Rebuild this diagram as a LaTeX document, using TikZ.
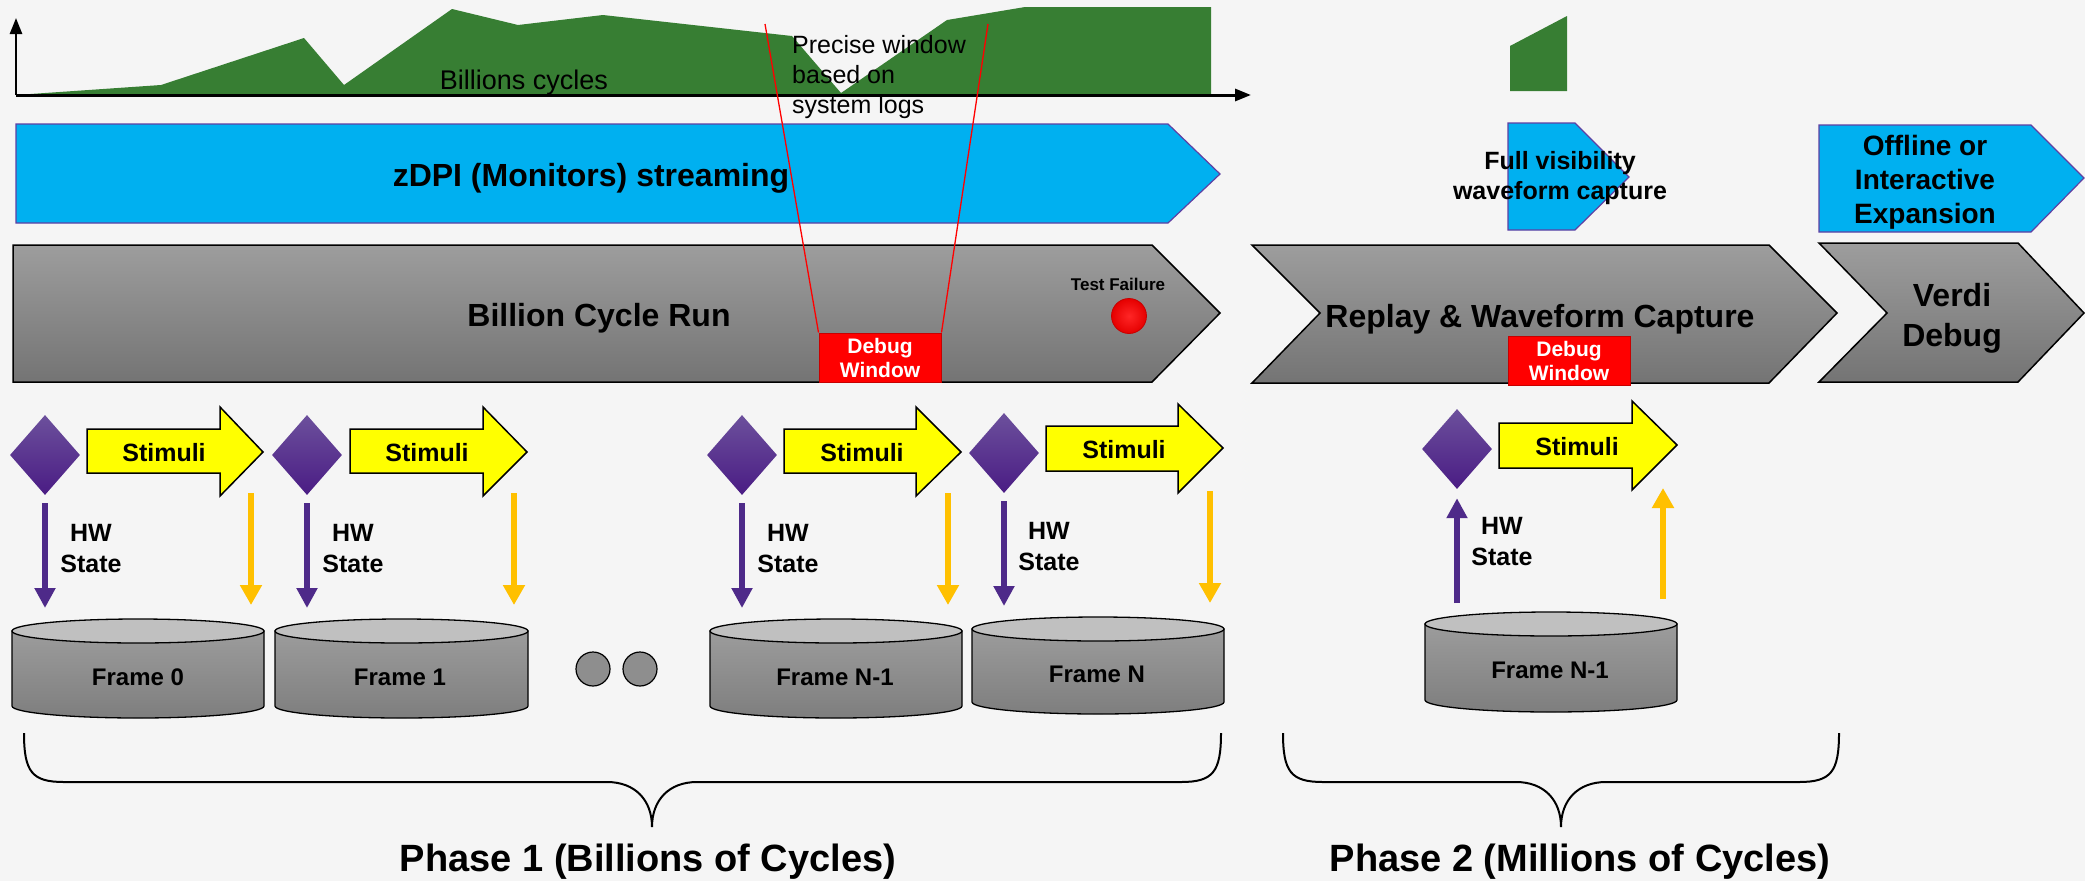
\documentclass[tikz,border=0pt]{standalone}
\usepackage{fontspec}
\setmainfont{Liberation Sans}
\usetikzlibrary{shapes.geometric,arrows.meta}

\definecolor{paper}{HTML}{F5F5F5}
\definecolor{chartgreen}{HTML}{377E33}
\definecolor{streamblue}{HTML}{00B0F0}
\definecolor{streamedge}{HTML}{5E3FA3}
\definecolor{runtop}{HTML}{9D9D9D}
\definecolor{runbot}{HTML}{747474}
\definecolor{dbgred}{HTML}{FF0000}
\definecolor{dbgedge}{HTML}{C80000}
\definecolor{stimyellow}{HTML}{FFFF00}
\definecolor{statepurple}{HTML}{4E2A89}
\definecolor{gemtop}{HTML}{6C509C}
\definecolor{gemmid}{HTML}{4F2188}
\definecolor{gembot}{HTML}{4A1C84}
\definecolor{feedorange}{HTML}{FFC000}
\definecolor{drumlid}{HTML}{C0C0C0}
\definecolor{drumhi}{HTML}{9C9C9C}
\definecolor{drumlo}{HTML}{7E7E7E}
\definecolor{dotgray}{HTML}{8E8E8E}

\newcommand{\pxfont}[2]{\fontsize{#1}{#2}\selectfont}
% storage drum: left x, right x, lid centre y, base centre y
\newcommand{\framedrum}[4]{%
  \pgfmathsetmacro{\drumrx}{(#2-#1)/2}%
  \pgfmathsetmacro{\drumcx}{(#2+#1)/2}%
  \draw[top color=drumhi, bottom color=drumlo, line width=1.3pt]
    (#1,#3) -- (#1,#4) arc[start angle=180, end angle=360, x radius=\drumrx pt, y radius=12pt] -- (#2,#3) -- cycle;
  \draw[fill=drumlid, line width=1.3pt] (\drumcx,#3) ellipse[x radius=\drumrx pt, y radius=12pt];
}

\begin{document}
\begin{tikzpicture}[x=1pt, y=-1pt,
  headtxt/.style={inner sep=0pt, font=\bfseries\pxfont{32}{40}},
  stimtxt/.style={inner sep=0pt, font=\bfseries\pxfont{25}{31}},
  frametxt/.style={inner sep=0pt, font=\bfseries\pxfont{24}{29}, anchor=base},
  dbgbox/.style={rectangle, fill=dbgred, draw=dbgedge, line width=1pt,
    minimum width=122pt, minimum height=49pt, inner sep=0pt, text=white,
    font=\bfseries\pxfont{21}{24}, align=center},
  gem/.style={diamond, minimum width=70pt, minimum height=80pt, inner sep=0pt,
    top color=gemtop, middle color=gemmid, bottom color=gembot},
  stimshape/.style={fill=stimyellow, draw=black, line width=1.5pt, line join=miter},
  statearrow/.style={draw=statepurple, line width=6pt, -{Triangle[length=20pt,width=20pt]}},
  feedarrow/.style={draw=feedorange, line width=6.5pt, -{Triangle[length=20pt,width=21pt]}},
  runshape/.style={top color=runtop, bottom color=runbot, draw=black, line width=1.5pt, line join=miter},
  streamshape/.style={fill=streamblue, draw=streamedge, line width=1.2pt, line join=miter},
  dot/.style={circle, minimum size=34pt, inner sep=0pt, draw=black, line width=1.2pt, fill=dotgray},
  brace/.style={draw=black, line width=2pt},
  window/.style={draw=red, line width=1.3pt}
]
\fill[paper] (0,0) rectangle (2085,881);
\useasboundingbox (0,0) rectangle (2085,881);

% ---- cycle activity chart ----
\fill[chartgreen] (16,95) -- (161,85) -- (304,38) -- (344,85) -- (452,9) -- (518,25)
  -- (603,15) -- (792,36) -- (841,93) -- (947,20) -- (1025,7) -- (1211,7) -- (1211,95) -- cycle;
\fill[chartgreen] (1510,46) -- (1567,16) -- (1567,91) -- (1510,91) -- cycle;
\coordinate (origin) at (16,95);
\coordinate (yend) at (16,18);
\coordinate (xend) at (1251,95);
\draw[line width=2.5pt, -{Triangle[length=16pt,width=12pt]}] (origin) -- (yend);
\draw[line width=3pt, -{Triangle[length=16pt,width=12pt]}] (origin) -- (xend);
\node[inner sep=0pt, font=\pxfont{27}{32}, anchor=base] (cyclbl) at (524,89) {Billions cycles};
\node[inner sep=0pt, font=\pxfont{25}{30}, align=left, anchor=north west] (winlbl) at (792,35)
  {Precise window\\based on\\system logs};

% ---- monitor streaming and capture bands ----
\draw[streamshape] (16,124) -- (1168,124) -- (1220,174) -- (1168,223) -- (16,223) -- cycle;
\node[headtxt, anchor=base] (zdpi) at (591,186) {zDPI (Monitors) streaming};
\draw[streamshape] (1508,123) -- (1575,123) -- (1629,177) -- (1575,230) -- (1508,230) -- cycle;
\node[inner sep=0pt, font=\bfseries\pxfont{25}{30}, align=center] (fullvis) at (1560,178)
  {Full visibility\\waveform capture};
\draw[streamshape] (1819,125) -- (2031,125) -- (2084,178) -- (2031,232) -- (1819,232) -- cycle;
\node[inner sep=0pt, font=\bfseries\pxfont{28}{34}, align=center] (offline) at (1925,182)
  {Offline or\\Interactive\\Expansion};

% ---- run stages ----
\draw[runshape] (13,245) -- (1152,245) -- (1220,313) -- (1152,382) -- (13,382) -- cycle;
\node[headtxt, anchor=base] (runlbl) at (599,326) {Billion Cycle Run};
\node[inner sep=0pt, font=\bfseries\pxfont{17}{20}, anchor=base] (faillbl) at (1118,290) {Test Failure};
\node[circle, minimum size=35pt, inner sep=0pt, inner color=red!85!white, outer color=red!90!black,
  draw=dbgedge, line width=0.8pt] (faildot) at (1129,316) {};
\node[dbgbox] (dbg1) at (880,357.5) {Debug\\Window};

\draw[runshape] (1252,245) -- (1769,245) -- (1837,313) -- (1769,383) -- (1252,383) -- (1320,313) -- cycle;
\node[headtxt, anchor=base] (replaylbl) at (1540,327) {Replay \& Waveform Capture};
\node[dbgbox] (dbg2) at (1569,361) {Debug\\Window};

\draw[runshape] (1819,243) -- (2018,243) -- (2084,313) -- (2018,382) -- (1819,382) -- (1887,313) -- cycle;
\node[headtxt, align=center] (verdi) at (1952,318) {Verdi\\Debug};

% window markers from the log timeline to the debug window
\coordinate (winL) at (765,24);
\coordinate (winR) at (988,24);
\draw[window] (winL) -- (dbg1.north west);
\draw[window] (winR) -- (dbg1.north east);

% ---- frame checkpoints, phase 1 ----
% frame 0
\node[gem] (g1) at (45,455) {};
\draw[stimshape] (87,429) -- (220,429) -- (220,407) -- (263,452) -- (220,496) -- (220,473) -- (87,473) -- cycle;
\node[stimtxt, anchor=base] (st1) at (164,461) {Stimuli};
\coordinate (p1) at (45,608);
\draw[statearrow, shorten <=8pt] (g1.south) -- (p1);
\node[stimtxt, align=center, anchor=north] (hw1) at (91,524) {HW\\State};
\coordinate (y1a) at (251,493); \coordinate (y1b) at (251,605);
\draw[feedarrow] (y1a) -- (y1b);
\framedrum{12}{264}{631}{706}
\node[frametxt] (fr1) at (138,685) {Frame 0};

% frame 1
\node[gem] (g2) at (307,455) {};
\draw[stimshape] (350,429) -- (483,429) -- (483,407) -- (527,452) -- (483,496) -- (483,473) -- (350,473) -- cycle;
\node[stimtxt, anchor=base] (st2) at (427,461) {Stimuli};
\coordinate (p2) at (307,608);
\draw[statearrow, shorten <=8pt] (g2.south) -- (p2);
\node[stimtxt, align=center, anchor=north] (hw2) at (353,524) {HW\\State};
\coordinate (y2a) at (514,493); \coordinate (y2b) at (514,605);
\draw[feedarrow] (y2a) -- (y2b);
\framedrum{275}{528}{631}{706}
\node[frametxt] (fr2) at (400,685) {Frame 1};

% ellipsis
\node[dot] (dot1) at (593,669) {};
\node[dot] (dot2) at (640,669) {};

% frame N-1
\node[gem] (g3) at (742,455) {};
\draw[stimshape] (784,429) -- (916,429) -- (916,407) -- (961,452) -- (916,496) -- (916,473) -- (784,473) -- cycle;
\node[stimtxt, anchor=base] (st3) at (862,461) {Stimuli};
\coordinate (p3) at (742,608);
\draw[statearrow, shorten <=8pt] (g3.south) -- (p3);
\node[stimtxt, align=center, anchor=north] (hw3) at (788,524) {HW\\State};
\coordinate (y3a) at (948,493); \coordinate (y3b) at (948,605);
\draw[feedarrow] (y3a) -- (y3b);
\framedrum{710}{962}{631}{706}
\node[frametxt] (fr3) at (835,685) {Frame N-1};

% frame N
\node[gem] (g4) at (1004,453) {};
\draw[stimshape] (1046,426) -- (1178,426) -- (1178,404) -- (1223,448) -- (1178,493) -- (1178,471) -- (1046,471) -- cycle;
\node[stimtxt, anchor=base] (st4) at (1124,458) {Stimuli};
\coordinate (p4) at (1004,606);
\draw[statearrow, shorten <=8pt] (g4.south) -- (p4);
\node[stimtxt, align=center, anchor=north] (hw4) at (1049,522) {HW\\State};
\coordinate (y4a) at (1210,491); \coordinate (y4b) at (1210,603);
\draw[feedarrow] (y4a) -- (y4b);
\framedrum{972}{1224}{629}{702}
\node[frametxt] (fr4) at (1097,682) {Frame N};

% ---- replay from frame N-1, phase 2 ----
\node[gem] (g5) at (1457,449) {};
\draw[stimshape] (1499,423) -- (1632,423) -- (1632,401) -- (1677,445) -- (1632,490) -- (1632,468) -- (1499,468) -- cycle;
\node[stimtxt, anchor=base] (st5) at (1577,455) {Stimuli};
\coordinate (p5) at (1457,603);
\draw[statearrow, shorten >=9pt] (p5) -- (g5.south);
\node[stimtxt, align=center, anchor=north] (hw5) at (1502,517) {HW\\State};
\coordinate (y5a) at (1663,599); \coordinate (y5b) at (1663,488);
\draw[feedarrow] (y5a) -- (y5b);
\framedrum{1425}{1677}{624}{700}
\node[frametxt] (fr5) at (1550,678) {Frame N-1};

% ---- phase braces ----
\draw[brace] (24,733) .. controls (24,772) and (32,782) .. (64,782) -- (607,782)
  .. controls (635,782) and (652,800) .. (652,827)
  .. controls (652,800) and (669,782) .. (697,782) -- (1181,782)
  .. controls (1213,782) and (1221,772) .. (1221,733);
\draw[brace] (1283,733) .. controls (1283,772) and (1291,782) .. (1323,782) -- (1516,782)
  .. controls (1544,782) and (1561,800) .. (1561,827)
  .. controls (1561,800) and (1578,782) .. (1606,782) -- (1799,782)
  .. controls (1831,782) and (1839,772) .. (1839,733);
\node[inner sep=0pt, font=\bfseries\pxfont{38}{44}, anchor=base] (ph1) at (648,871) {Phase 1 (Billions of Cycles)};
\node[inner sep=0pt, font=\bfseries\pxfont{38}{44}, anchor=base] (ph2) at (1580,871) {Phase 2 (Millions of Cycles)};
\end{tikzpicture}
\end{document}
